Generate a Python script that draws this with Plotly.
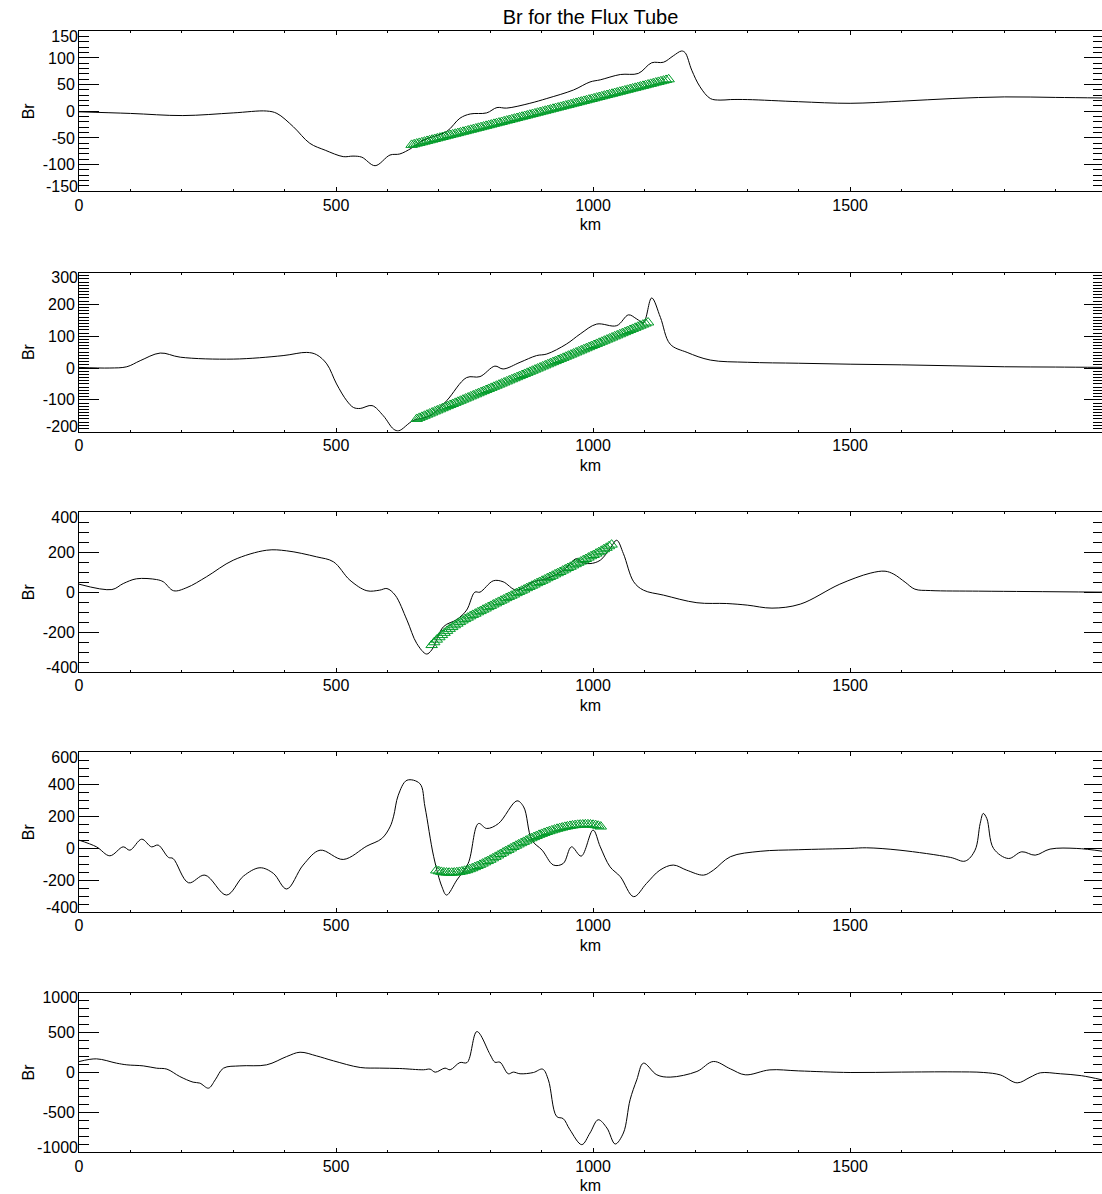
import plotly.graph_objects as go

# ---- Br profiles along the flux tube (km, Br) ----
km1 = [0, 100, 202, 300, 365, 385, 417, 449, 479, 514, 533, 550, 576, 605, 624, 647, 670, 715, 741, 761,
       793, 813, 832, 877, 910, 962, 994, 1014, 1053, 1088, 1114, 1137, 1156, 1172, 1179, 1192, 1208, 1228,
       1247, 1267, 1300, 1400, 1500, 1600, 1700, 1800, 1900, 1990]
br1 = [-1, -4, -8, -3, 0.5, -4, -29, -60, -73, -85, -84, -86, -102, -82, -80, -69, -54, -38, -13, -5,
       -3, 7, 6, 15, 24, 40, 55, 59, 69, 71, 91, 92, 104, 113, 110, 77, 46, 24,
       21, 22, 22, 18, 15, 19, 24, 27, 26, 25]

km2 = [0, 60, 93, 119, 158, 197, 300, 397, 443, 462, 482, 501, 521, 534, 547, 570, 592, 612, 622, 650,
       683, 715, 754, 780, 809, 825, 858, 890, 910, 948, 975, 1007, 1046, 1069, 1085, 1098, 1114, 1131,
       1150, 1183, 1228, 1300, 1400, 1500, 1600, 1700, 1800, 1900, 1990]
br2 = [2, 0, 4, 23, 47, 34, 28, 39, 49, 42, 13, -50, -103, -124, -127, -118, -150, -192, -197, -165,
       -150, -103, -30, -27, 6, -3, 18, 39, 44, 75, 107, 138, 133, 167, 154, 143, 220, 159,
       75, 49, 25, 18, 15, 12, 10, 7, 4, 3, 2]

km3 = [0, 64, 86, 112, 151, 164, 184, 210, 248, 300, 365, 404, 462, 495, 527, 560, 585, 599, 615, 638,
       657, 676, 686, 709, 735, 754, 770, 780, 806, 825, 851, 884, 910, 942, 968, 975, 994, 1014, 1033,
       1046, 1059, 1079, 1098, 1137, 1202, 1260, 1300, 1348, 1403, 1480, 1539, 1568, 1585, 1607, 1626,
       1656, 1750, 1850, 1990]
br3 = [40, 13, 43, 67, 63, 52, 7, 23, 77, 160, 210, 207, 177, 152, 60, 7, 10, 18, -15, -140,
       -257, -310, -290, -173, -137, -90, 0, 0, 57, 52, 10, 52, 68, 110, 168, 152, 143, 160, 218,
       260, 193, 52, 10, -15, -53, -57, -65, -80, -60, 40, 95, 105, 90, 50, 15,
       8, 5, 3, 0]

km4 = [0, 34, 60, 86, 99, 122, 141, 154, 174, 183, 213, 245, 287, 320, 352, 378, 404, 436, 469, 514,
       560, 589, 605, 612, 621, 638, 663, 673, 690, 706, 715, 735, 757, 777, 793, 816, 852, 865, 881, 901,
       923, 942, 958, 977, 1000, 1014, 1033, 1053, 1079, 1104, 1130, 1156, 1182, 1215, 1234, 1267, 1325,
       1400, 1500, 1532, 1597, 1695, 1724, 1743, 1753, 1759, 1766, 1779, 1808, 1834, 1860, 1889, 1941,
       1990]
br4 = [50, 8, -48, 8, -13, 56, 8, 19, -58, -65, -217, -169, -294, -175, -123, -158, -256, -106, -13, -71,
       13, 60, 133, 200, 331, 425, 404, 258, -54, -242, -294, -200, -96, 154, 123, 154, 296, 258, 50, -13,
       -106, -96, 8, -50, 113, 8, -117, -179, -304, -221, -138, -106, -138, -169, -138, -54, -20,
       -10, -2, 2, -13, -58, -81, -13, 154, 217, 185, -2, -65, -23, -44, -6, -2,
       -19]

km5 = [0, 34, 73, 93, 125, 151, 171, 196, 222, 235, 252, 265, 281, 313, 365, 404, 430, 462, 495, 547,
       585, 624, 670, 683, 693, 712, 722, 741, 755, 774, 800, 809, 819, 835, 845, 858, 884, 902, 913,
       929, 942, 955, 978, 994, 1010, 1027, 1043, 1059, 1072, 1085, 1098, 1124, 1150, 1202, 1234, 1267,
       1296, 1344, 1400, 1500, 1600, 1700, 1760, 1792, 1825, 1850, 1870, 1909, 1950, 1990]
br5 = [137, 171, 117, 96, 83, 54, 42, -50, -121, -133, -196, -92, 54, 83, 96, 200, 254, 208, 146, 63,
       55, 50, 34, 42, 4, 55, 34, 125, 125, 513, 221, 129, 129, -16, 5, -16, 0, 42, -92,
       -550, -579, -717, -904, -758, -592, -696, -896, -758, -342, -92, 117, -29, -58, 13, 138, 46,
       -29, 33, 20, 0, 5, 8, 0, -30, -130, -60, -4, -16, -40, -92]

# ---- fitted Br across the tube (green triangles), sampled every 5 km ----
fit_km1 = list(range(647, 1148, 5))
fit_br1 = [-63.0, -61.8, -60.5, -59.3, -58.1, -56.9, -55.6, -54.4, -53.2, -51.9,
           -50.7, -49.5, -48.2, -47.0, -45.8, -44.5, -43.3, -42.1, -40.9, -39.6,
           -38.4, -37.2, -35.9, -34.7, -33.5, -32.3, -31.0, -29.8, -28.6, -27.3,
           -26.1, -24.9, -23.6, -22.4, -21.2, -20.0, -18.7, -17.5, -16.3, -15.0,
           -13.8, -12.6, -11.3, -10.1, -8.9, -7.7, -6.4, -5.2, -4.0, -2.7,
           -1.5, -0.3, 1.0, 2.2, 3.4, 4.7, 5.9, 7.1, 8.3, 9.6,
           10.8, 12.0, 13.3, 14.5, 15.7, 17.0, 18.2, 19.4, 20.6, 21.9,
           23.1, 24.3, 25.6, 26.8, 28.0, 29.3, 30.5, 31.7, 32.9, 34.2,
           35.4, 36.6, 37.9, 39.1, 40.3, 41.6, 42.8, 44.0, 45.2, 46.5,
           47.7, 48.9, 50.2, 51.4, 52.6, 53.9, 55.1, 56.3, 57.5, 58.8, 60.0]

fit_km2 = list(range(657, 1108, 5))
fit_br2 = [-160.0, -156.6, -153.3, -149.9, -146.5, -143.2, -139.8, -136.4, -133.1, -129.7,
           -126.3, -123.0, -119.6, -116.2, -112.9, -109.5, -106.1, -102.8, -99.4, -96.0,
           -92.7, -89.3, -85.9, -82.6, -79.2, -75.8, -72.5, -69.1, -65.7, -62.4,
           -59.0, -55.6, -52.3, -48.9, -45.5, -42.2, -38.8, -35.4, -32.1, -28.7,
           -25.3, -22.0, -18.6, -15.2, -11.9, -8.5, -5.1, -1.8, 1.6, 5.0,
           8.4, 11.7, 15.1, 18.5, 21.8, 25.2, 28.6, 31.9, 35.3, 38.7,
           42.0, 45.4, 48.8, 52.1, 55.5, 58.9, 62.2, 65.6, 69.0, 72.3,
           75.7, 79.1, 82.4, 85.8, 89.2, 92.5, 95.9, 99.3, 102.6, 106.0,
           109.4, 112.7, 116.1, 119.5, 122.8, 126.2, 129.6, 132.9, 136.3, 139.7, 143.0]

fit_km3 = list(range(686, 1037, 5))
fit_br3 = [-265, -251, -238, -226, -215, -204, -194, -184, -175, -166,
           -158, -150, -142, -135, -128, -121, -114, -108, -101, -95,
           -88, -82, -75, -69, -62, -56, -49, -43, -37, -30,
           -24, -18, -12, -5, 1, 7, 13, 20, 26, 32,
           38, 45, 51, 57, 63, 70, 76, 82, 89, 95,
           101, 108, 114, 121, 127, 134, 140, 147, 153, 160,
           166, 173, 180, 186, 193, 200, 207, 215, 222, 230, 238]

fit_km4 = list(range(695, 1016, 5))
fit_br4 = [-140, -145, -149, -152, -153, -154, -154, -153, -151, -149,
           -146, -142, -138, -132, -126, -119, -112, -105, -97, -89,
           -81, -73, -64, -55, -46, -37, -28, -19, -11, -2,
           7, 15, 23, 31, 39, 47, 55, 62, 69, 76,
           83, 89, 95, 101, 106, 111, 116, 121, 125, 129,
           133, 136, 139, 142, 144, 146, 147, 148, 149, 149,
           148, 146, 144, 140, 135]

# ---- axis ticks per panel ----
y_ranges = [[-150, 150], [-200, 300], [-400, 400], [-400, 600], [-1000, 1000]]
y_ticks = [[-150, -100, -50, 0, 50, 100, 150],
           [-200, -100, 0, 100, 200, 300],
           [-400, -200, 0, 200, 400],
           [-400, -200, 0, 200, 400, 600],
           [-1000, -500, 0, 500, 1000]]
y_minor = [10, 10, 50, 50, 100]
x_range = [0, 1990]
x_ticks = [0, 500, 1000, 1500]

W, H = 1102, 1194
panel_px = [(31.3, 191.3), (272.5, 431.7), (512.3, 672.0), (752.3, 912.0), (992.7, 1152.3)]
EDGE_SHIFT_PX = 5  # edge y labels are pulled inward by this much

profiles = [(km1, br1), (km2, br2), (km3, br3), (km4, br4), (km5, br5)]
fits = [(fit_km1, fit_br1), (fit_km2, fit_br2), (fit_km3, fit_br3), (fit_km4, fit_br4), None]

FONT = "Liberation Sans, Arial, Helvetica, sans-serif"
GREEN = "rgb(0,155,40)"
TICKFONT = dict(family=FONT, size=16, color="black")

fig = go.Figure()
layout = dict(
    width=W, height=H,
    margin=dict(l=79, r=0, t=0, b=0, pad=0),
    paper_bgcolor="white", plot_bgcolor="white",
    font=dict(family=FONT, size=16, color="black"),
    showlegend=False,
    title=dict(text="Br for the Flux Tube", x=0.5, xref="paper", xanchor="center",
               y=1 - 17 / H, yref="container", yanchor="middle",
               font=dict(family=FONT, size=20, color="black")),
)

n_ax = 5  # next free y-axis index for overlay axes
for i in range(5):
    n = i + 1
    xa = "x" if n == 1 else f"x{n}"
    ya = "y" if n == 1 else f"y{n}"
    top, bot = panel_px[i]
    dom = [1 - bot / H, 1 - top / H]
    lo, hi = y_ranges[i]
    ticks = y_ticks[i]

    km, br = profiles[i]
    fig.add_trace(go.Scatter(x=km, y=br, mode="lines", line=dict(color="black", width=1, shape="spline"),
                             xaxis=xa, yaxis=ya, hoverinfo="skip"))
    if fits[i] is not None:
        fk, fb = fits[i]
        fig.add_trace(go.Scatter(x=fk, y=fb, mode="markers",
                                 marker=dict(symbol="triangle-up-open", size=10, color=GREEN,
                                             line=dict(width=1, color=GREEN)),
                                 xaxis=xa, yaxis=ya, hoverinfo="skip"))

    layout["xaxis" if n == 1 else f"xaxis{n}"] = dict(
        domain=[0, 1], anchor=ya, range=x_range, automargin=False,
        tickvals=x_ticks, ticktext=[str(v) for v in x_ticks],
        ticks="inside", ticklen=4, tickwidth=1, tickcolor="black",
        minor=dict(dtick=100, tick0=0, ticks="inside", ticklen=2, tickwidth=1, tickcolor="black", showgrid=False),
        showline=True, linecolor="black", linewidth=1, mirror="ticks",
        showgrid=False, zeroline=False,
        ticklabelstandoff=-1,
        tickfont=TICKFONT,
        title=dict(text="km", standoff=6, font=dict(size=16, color="black")),
    )
    ycommon = dict(domain=dom, showgrid=False, zeroline=False, anchor=xa, automargin=False)

    # left axis: line, ticks and the interior labels
    inner_text = [str(v) if v not in (ticks[0], ticks[-1]) else "" for v in ticks]
    layout["yaxis" if n == 1 else f"yaxis{n}"] = dict(
        **ycommon, range=[lo, hi], ticklen=20, ticks="inside", tickwidth=1, tickcolor="black",
        tickvals=ticks, ticktext=inner_text,
        minor=dict(dtick=y_minor[i], tick0=0, ticks="inside", ticklen=10, tickwidth=1,
                   tickcolor="black", showgrid=False),
        showline=True, linecolor="black", linewidth=1,
        tickfont=TICKFONT,
        title=dict(text="Br", standoff=4, font=dict(size=16, color="black")),
    )

    # right side: ticks only
    n_ax += 1
    yr = f"y{n_ax}"
    fig.add_trace(go.Scatter(x=[None], y=[None], xaxis=xa, yaxis=yr, hoverinfo="skip"))
    layout[f"yaxis{n_ax}"] = dict(
        **ycommon, range=[lo, hi], overlaying=ya, side="right", ticklen=18, ticks="inside",
        tickwidth=1, tickcolor="black", tickvals=ticks,
        minor=dict(dtick=y_minor[i], tick0=0, ticks="inside", ticklen=9, tickwidth=1,
                   tickcolor="black", showgrid=False),
        showline=False, showticklabels=False,
    )

    # edge labels: offset label-only axes so the top/bottom values sit slightly inside the frame
    d = EDGE_SHIFT_PX * (hi - lo) / (bot - top)
    for val, rng in ((ticks[-1], [lo + d, hi + d]), (ticks[0], [lo - d, hi - d])):
        n_ax += 1
        ye = f"y{n_ax}"
        fig.add_trace(go.Scatter(x=[None], y=[None], xaxis=xa, yaxis=ye, hoverinfo="skip"))
        layout[f"yaxis{n_ax}"] = dict(
            **ycommon, range=rng, overlaying=ya, side="left", ticks="",
            tickvals=[val], ticktext=[str(val)],
            showline=False, tickfont=TICKFONT,
        )

fig.update_layout(**layout)
fig.write_html("out.html", config={"displayModeBar": False},
               post_script="document.body.style.margin='0';")
